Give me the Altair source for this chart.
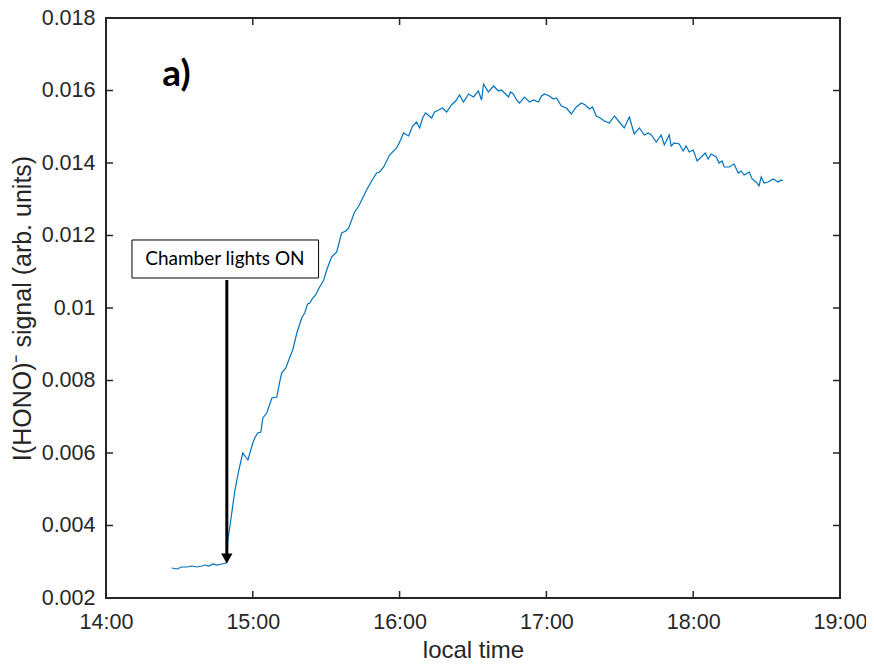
import altair as alt
import pandas as pd

# ---- data ----
minutes_after_14h = [
    26.9, 29.0, 31.0, 33.1, 35.1, 37.1, 39.2, 40.4, 42.0, 43.7, 45.3, 47.3, 49.0, 49.4,
    49.8, 50.6, 52.7, 54.3, 55.9, 58.0, 60.0, 60.8, 62.0, 63.3, 64.1, 65.7, 67.8, 69.8,
    71.0, 71.8, 73.5, 74.7, 76.3, 78.0, 80.0, 81.2, 82.4, 83.3, 84.5, 85.7, 87.3, 89.0,
    90.2, 92.2, 94.3, 96.3, 98.0, 99.2, 101.6, 103.3, 104.5, 106.5, 108.6, 110.6, 111.8,
    113.5, 115.9, 118.8, 120.4, 121.6, 123.7, 125.3, 126.9, 128.2, 129.4, 130.6, 133.1,
    134.3, 135.9, 137.6, 139.2, 141.2, 142.9, 144.5, 146.1, 148.2, 150.2, 152.2, 153.5,
    154.3, 156.3, 158.4, 160.4, 161.6, 162.9, 164.5, 165.3, 166.5, 167.8, 169.0, 171.0,
    173.1, 174.7, 176.7, 178.0, 179.2, 181.2, 182.9, 184.1, 186.1, 188.2, 190.2, 192.2,
    194.3, 195.9, 197.6, 198.8, 200.4, 202.0, 203.7, 205.7, 207.8, 209.8, 211.8, 213.9,
    215.9, 218.0, 220.0, 221.6, 222.9, 224.9, 226.9, 228.2, 230.2, 231.0, 232.2, 234.3,
    235.9, 237.1, 238.4, 240.0, 241.6, 243.3, 244.9, 246.1, 247.3, 249.4, 250.6, 251.8,
    252.7, 254.7, 256.7, 258.4, 259.6, 260.8, 262.9, 264.1, 265.7, 266.9, 267.8, 269.0,
    270.6, 272.7, 274.7, 275.9, 276.7,
]
signal = [
    0.002828, 0.002800, 0.002855, 0.002855, 0.002883, 0.002855, 0.002883, 0.002910,
    0.002883, 0.002938, 0.002910, 0.002938, 0.002966, 0.002993,
    0.003600, 0.003959, 0.004979, 0.005531, 0.006000, 0.005807, 0.006276, 0.006414,
    0.006552, 0.006579, 0.006966, 0.007103, 0.007517, 0.007545, 0.007959, 0.008207,
    0.008345, 0.008566, 0.008841, 0.009310, 0.009724, 0.009862, 0.010110, 0.010138,
    0.010276, 0.010359, 0.010579, 0.010772, 0.011048, 0.011407, 0.011545, 0.012069,
    0.012124, 0.012207, 0.012648, 0.012814, 0.012979, 0.013255, 0.013503, 0.013724,
    0.013752, 0.013890, 0.014221, 0.014414, 0.014634, 0.014828, 0.014745, 0.015020,
    0.015131, 0.014966, 0.015241, 0.015379, 0.015241, 0.015407, 0.015462, 0.015517,
    0.015407, 0.015600, 0.015710, 0.015876, 0.015683, 0.015903, 0.015821, 0.015986,
    0.015738, 0.016179, 0.015959, 0.016124, 0.015986, 0.016014, 0.015931, 0.015820,
    0.015959, 0.015903, 0.015738, 0.015655, 0.015820, 0.015683, 0.015738, 0.015683,
    0.015848, 0.015903, 0.015848, 0.015765, 0.015793, 0.015572, 0.015517, 0.015352,
    0.015545, 0.015655, 0.015600, 0.015490, 0.015545, 0.015297, 0.015241, 0.015159,
    0.015103, 0.015297, 0.015131, 0.014966, 0.015269, 0.014800, 0.014966, 0.014772,
    0.014828, 0.014772, 0.014579, 0.014772, 0.014497, 0.014772, 0.014469, 0.014552,
    0.014524, 0.014331, 0.014469, 0.014303, 0.014359, 0.014055, 0.014166, 0.014276,
    0.014110, 0.014248, 0.014166, 0.014000, 0.014055, 0.013890, 0.013890, 0.013972,
    0.013724, 0.013779, 0.013669, 0.013752, 0.013559, 0.013476, 0.013366, 0.013614,
    0.013448, 0.013476, 0.013559, 0.013476, 0.013531, 0.013503,
]
x_tick_hours = [14, 15, 16, 17, 18, 19]
y_tick_values = [0.002, 0.004, 0.006, 0.008, 0.010, 0.012, 0.014, 0.016, 0.018]

panel_label = "a)"
panel_label_hour = 14.48
panel_label_value = 0.01643

note_text = "Chamber lights ON"
note_box_hours = [14.177, 15.448]       # left, right
note_box_values = [0.011876, 0.010828]  # top, bottom
note_text_hour = 14.81
note_text_value = 0.01135
arrow_hour = 14.823
arrow_values = [0.010772, 0.00309]      # start, head

# ---- build ----
df = pd.DataFrame({"hour": [14 + m / 60 for m in minutes_after_14h], "signal": signal})

W, H = 734, 580
AX = "#262626"
FONT = "Liberation Sans"
xscale = alt.Scale(domain=[14, 19], nice=False, zero=False)
yscale = alt.Scale(domain=[0.002, 0.018], nice=False, zero=False)
xaxis = alt.Axis(values=x_tick_hours, labelExpr="datum.value + ':00'",
                 title="local time", grid=False, domain=False, ticks=False,
                 labelFlush=False, labelOverlap=False,
                 labelFont=FONT, labelFontSize=21.5, labelColor=AX, labelPadding=13,
                 titleFont=FONT, titleFontSize=24, titleFontWeight="normal",
                 titleColor=AX, titlePadding=6)
yaxis = alt.Axis(values=y_tick_values, format=".3~f",
                 title="I(HONO)⁻ signal (arb. units)", grid=False, domain=False,
                 ticks=False, labelFlush=False, labelOverlap=False,
                 labelFont=FONT, labelFontSize=21.5, labelColor=AX,
                 labelPadding=11, titleFont=FONT, titleFontSize=25,
                 titleFontWeight="normal", titleColor=AX, titlePadding=6)


def X(field):
    return alt.X(field, scale=xscale, axis=xaxis)


def Y(field):
    return alt.Y(field, scale=yscale, axis=yaxis)


line = alt.Chart(df).mark_line(color="#0072BD", strokeWidth=1.2).encode(
    x=X("hour:Q"), y=Y("signal:Q"))

xt = pd.DataFrame({"h": x_tick_hours[1:-1]})
yt = pd.DataFrame({"v": y_tick_values[1:-1]})
tick_style = dict(color=AX, strokeWidth=1.5)
ticks_bottom = alt.Chart(xt).mark_rule(**tick_style).encode(
    x=X("h:Q"), y=alt.value(H), y2=alt.value(H - 7))
ticks_top = alt.Chart(xt).mark_rule(**tick_style).encode(
    x=X("h:Q"), y=alt.value(0), y2=alt.value(7))
ticks_left = alt.Chart(yt).mark_rule(**tick_style).encode(
    y=Y("v:Q"), x=alt.value(0), x2=alt.value(7))
ticks_right = alt.Chart(yt).mark_rule(**tick_style).encode(
    y=Y("v:Q"), x=alt.value(W), x2=alt.value(W - 7))

box_df = pd.DataFrame({"x1": [note_box_hours[0]], "x2": [note_box_hours[1]],
                       "y1": [note_box_values[0]], "y2": [note_box_values[1]]})
box = alt.Chart(box_df).mark_rect(fill="white", stroke="black", strokeWidth=1).encode(
    x=X("x1:Q"), x2="x2:Q", y=Y("y1:Q"), y2="y2:Q")

note = alt.Chart(pd.DataFrame({"h": [note_text_hour], "v": [note_text_value], "t": [note_text]})
                 ).mark_text(font="Lato", fontSize=19, color="black", baseline="middle",
                             align="center").encode(x=X("h:Q"), y=Y("v:Q"), text="t:N")

arrow_df = pd.DataFrame({"h": [arrow_hour], "v1": [arrow_values[0]], "v2": [arrow_values[1]]})
arrow_line = alt.Chart(arrow_df).mark_rule(color="black", strokeWidth=3).encode(
    x=X("h:Q"), y=Y("v1:Q"), y2="v2:Q")
arrow_head = alt.Chart(arrow_df).mark_point(shape="triangle-down", filled=True, size=130,
                                            color="black", opacity=1).encode(
    x=X("h:Q"), y=Y("v2:Q"))

label = alt.Chart(pd.DataFrame({"h": [panel_label_hour], "v": [panel_label_value], "t": [panel_label]})
                  ).mark_text(font="Lato", fontSize=37, fontWeight="bold", color="black",
                              baseline="middle", align="center").encode(
    x=X("h:Q"), y=Y("v:Q"), text="t:N")

chart = alt.layer(
    line, ticks_bottom, ticks_top, ticks_left, ticks_right,
    arrow_line, arrow_head, box, note, label,
).properties(
    width=W, height=H,
    autosize=alt.AutoSizeParams(type="none"),
    padding={"left": 98, "top": 10, "right": 26, "bottom": 63},
    background="white",
).configure_view(stroke=AX, strokeWidth=2)

chart.save("out.html", embed_options={"renderer": "svg", "actions": False})
